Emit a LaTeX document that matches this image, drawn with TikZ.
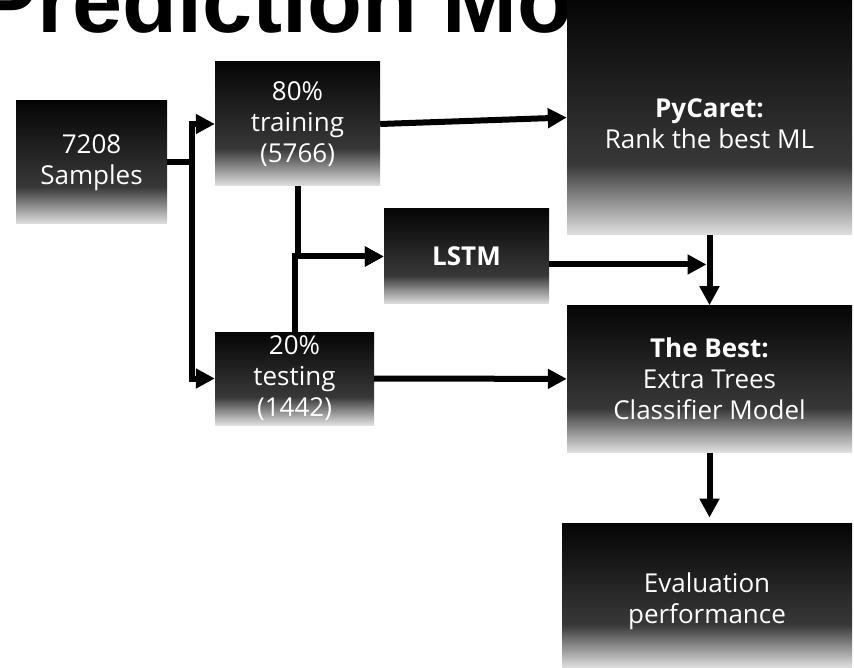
\documentclass[tikz,border=0pt]{standalone}
\usepackage{fontspec}
\setmainfont{Open Sans}
\newfontfamily\titlefont{Liberation Sans}
\usetikzlibrary{arrows.meta, positioning}
\pgfdeclareverticalshading{boxfade}{100bp}{color(0bp)=(black!12); color(25bp)=(black!12);
  color(40bp)=(black!78); color(75bp)=(black!98); color(100bp)=(black!98)}

\begin{document}
\begin{tikzpicture}[
      x=1pt, y=1pt,
      font=\fontsize{26}{31}\selectfont,
      box/.style={shade, shading=boxfade, text=white, inner sep=0pt, align=center},
      flow/.style={-{Triangle[length=19pt, width=19pt]}, line width=6pt, black},
    ]
      \useasboundingbox (0,0) rectangle (854,-668);
      \clip (0,0) rectangle (854,-668);

      \node[anchor=base west, font=\titlefont\bfseries\fontsize{90}{100}\selectfont]
        (title) at (-26,-33) {Prediction Model};

      \node[box, minimum width=151pt, minimum height=123pt] (samples) at (91.5,-162.5)
        {7208\\Samples};
      \node[box, minimum width=165pt, minimum height=124pt] (train) at (297.5,-124)
        {80\%\\training\\(5766)};
      \node[box, minimum width=159pt, minimum height=93pt] (test) at (294.5,-378.5)
        {20\%\\testing\\(1442)};
      \node[box, minimum width=165pt, minimum height=95pt] (lstm) at (466.5,-256.5)
        {\bfseries LSTM};
      \node[box, minimum width=285pt, minimum height=235pt] (pycaret) at (709.5,-117.5)
        {\rule{0pt}{32pt}\bfseries PyCaret:\\Rank the best ML};
      \node[box, minimum width=285pt, minimum height=147pt, below=70pt of pycaret] (best)
        {\bfseries The Best:\\Extra Trees\\Classifier Model};
      \node[box, minimum width=290pt, minimum height=144pt, below=71pt of best, xshift=-2.5pt] (eval)
        {\rule{0pt}{30pt}Evaluation\\performance};

      \draw[flow] (samples.east) -- ++(25,0) |- (train.west);
      \draw[flow] (samples.east) -- ++(25,0) |- (test.west);
      \draw[flow] (train.east) -- (pycaret.west);
      \draw[flow] (train.south) |- (lstm.west);
      \draw[flow] (test.north) |- (lstm.west);
      \draw[flow] (test.east) -- (best.west);
      \draw[flow] (pycaret.south) -- (best.north);
      \draw[flow, shorten >=3pt] ([yshift=-8pt]lstm.east) -- ([yshift=-8pt]lstm.east -| pycaret.south);
      \draw[flow, shorten >=6pt] (best.south) -- (best.south |- eval.north);
    \end{tikzpicture}
\end{document}
